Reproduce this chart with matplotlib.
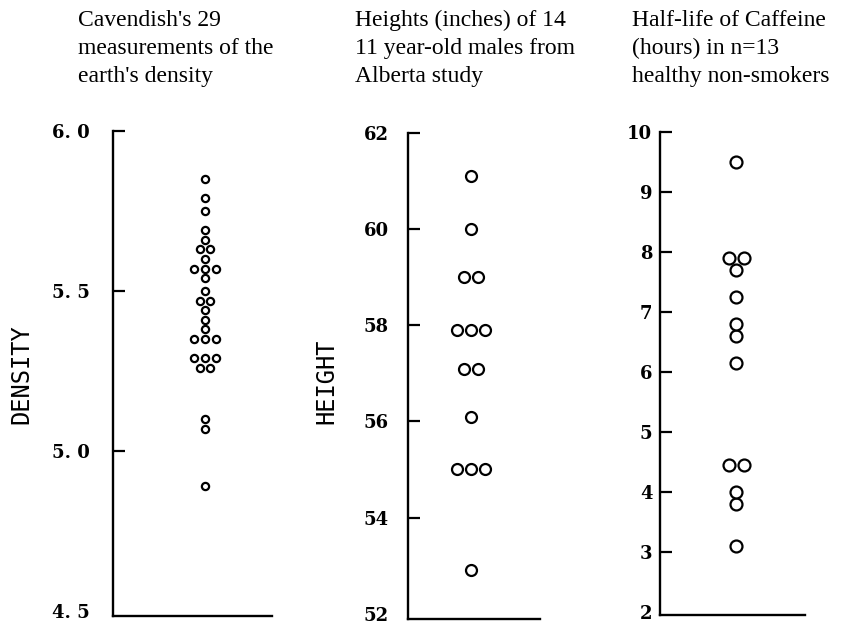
import numpy as np
import matplotlib.pyplot as plt

# dot levels (repeats = dots side by side)
density = [4.89, 5.07, 5.10, 5.26, 5.26, 5.29, 5.29, 5.29, 5.35, 5.35, 5.35,
           5.38, 5.41, 5.44, 5.47, 5.47, 5.50, 5.54, 5.57, 5.57, 5.57, 5.60,
           5.63, 5.63, 5.66, 5.69, 5.75, 5.79, 5.85]
height = [61.1, 60.0, 59.0, 59.0, 57.9, 57.9, 57.9, 57.1, 57.1, 56.1,
          55.0, 55.0, 55.0, 52.9]
caffeine = [9.5, 7.9, 7.9, 7.7, 7.25, 6.8, 6.6, 6.15, 4.45, 4.45, 4.0, 3.8, 3.1]

titles = [
    ["Cavendish's 29", "measurements of the", "earth's density"],
    ["Heights (inches) of 14", "11 year-old males from", "Alberta study"],
    ["Half-life of Caffeine", "(hours) in n=13", "healthy non-smokers"],
]
ylabels = ["DENSITY", "HEIGHT", ""]
density_ticks = [4.5, 5.0, 5.5, 6.0]
density_ticklabels = ["4. 5", "5. 0", "5. 5", "6. 0"]
height_ticks = [52, 54, 56, 58, 60, 62]
caffeine_ticks = [2, 3, 4, 5, 6, 7, 8, 9, 10]

W, H = 851, 625
fig = plt.figure(figsize=(W / 100, H / 100), dpi=100, facecolor="white")


def strip(values, box, center, ylim, ticks, ticklabels, spacing, ms, pad):
    """box = (left, right, top, bottom) in pixels, center = x pixel of dots"""
    left, right, top, bottom = box
    ax = fig.add_axes([left / W, 1 - bottom / H, (right - left) / W, (bottom - top) / H])
    ax.set_xlim(left - center, right - center)
    ax.set_ylim(*ylim)

    vals = np.array(values)
    for v in np.unique(vals):
        n = np.sum(vals == v)
        xs = (np.arange(n) - (n - 1) / 2) * spacing
        ax.plot(xs, np.full(n, v), "o", ms=ms, mfc="white", mec="black", mew=1.6,
                clip_on=False)

    for s in ["top", "right"]:
        ax.spines[s].set_visible(False)
    for s in ["left", "bottom"]:
        ax.spines[s].set_linewidth(1.7)
    ax.set_xticks([])
    ax.set_yticks(ticks)
    ax.set_yticklabels(ticklabels, fontfamily="DejaVu Serif", fontsize=13,
                       fontweight="bold")
    ax.tick_params(axis="y", direction="in", length=8.5, width=1.6, pad=pad)
    # no mark at the lowest tick, it sits on the baseline corner
    ax.yaxis.get_major_ticks()[0].tick1line.set_visible(False)
    return ax


strip(density, (113, 272, 131, 616), 205, (4.5 - 5 / 320, 6.0),
      density_ticks, density_ticklabels, 10.7, 5.2, 17)
strip(height, (408, 540, 133, 619), 471, (52 - 5.3 / 48, 62),
      height_ticks, [str(t) for t in height_ticks], 13.7, 7.9, 14)
strip(caffeine, (660, 805, 132, 615), 736, (2 - 3 / 60, 10),
      caffeine_ticks, [str(t) for t in caffeine_ticks], 15, 8.6, 5.5)

# titles, three lines each
for i, lines in enumerate(titles):
    x0 = 78 + 277 * i
    for j, line in enumerate(lines):
        fig.text(x0 / W, 1 - (26 + 28 * j) / H, line, fontfamily="Liberation Serif",
                 fontsize=17, ha="left", va="baseline")

# y axis labels
fig.text(21 / W, 1 - 374 / H, ylabels[0], fontfamily="DejaVu Sans Mono",
         fontsize=17, rotation=90, ha="center", va="center")
fig.text(326 / W, 1 - 381 / H, ylabels[1], fontfamily="DejaVu Sans Mono",
         fontsize=17, rotation=90, ha="center", va="center")

fig.savefig("out.png", dpi=100, facecolor="white")
